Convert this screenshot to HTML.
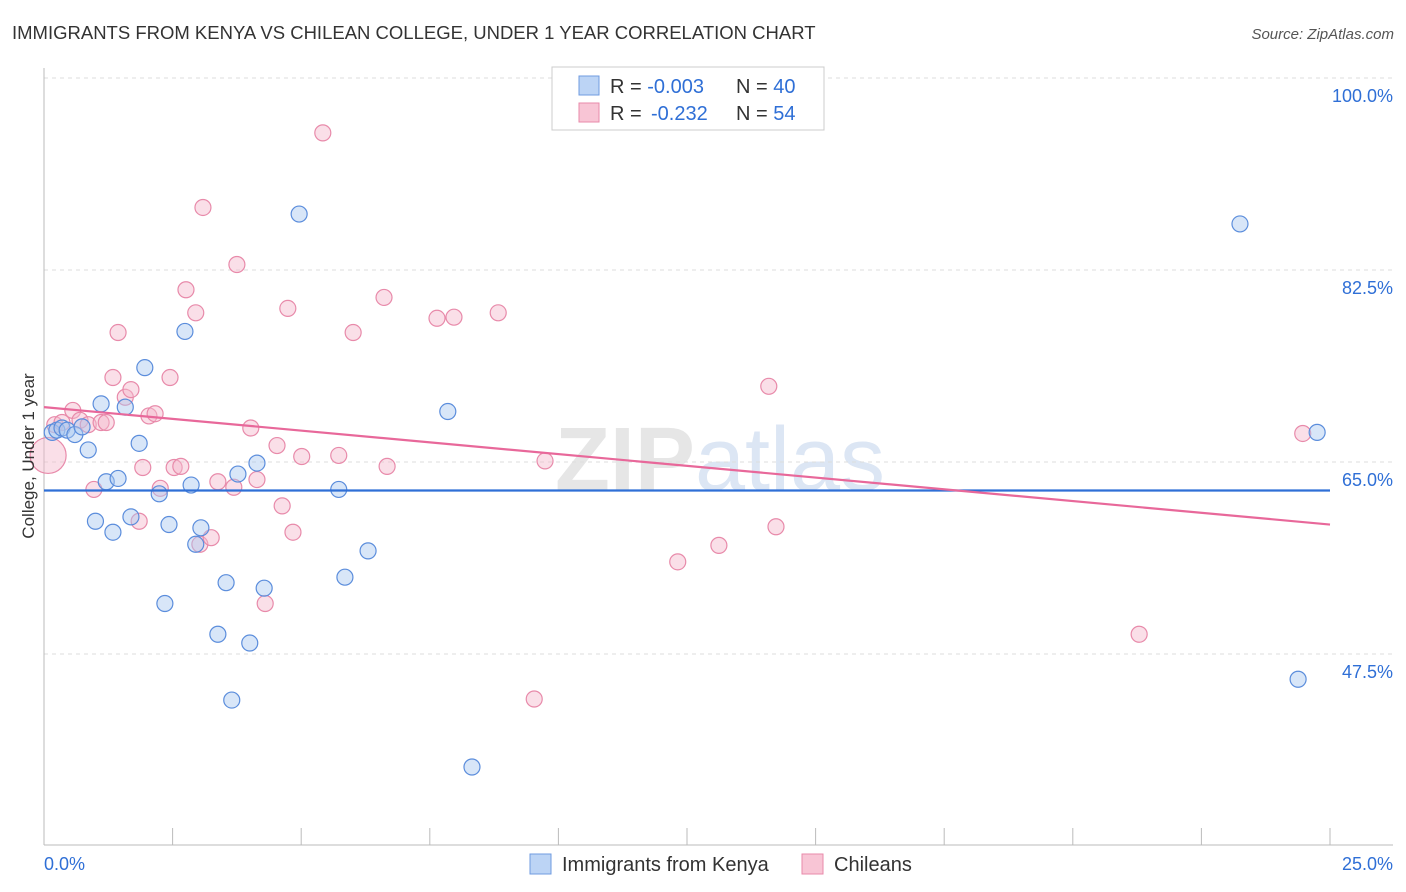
<!DOCTYPE html>
<html><head><meta charset="utf-8"><style>
body{margin:0;background:#fff;font-family:"Liberation Sans",sans-serif}
svg{display:block}
</style></head><body>
<svg id="chart" width="1406" height="892">
<text x="12" y="39" font-size="18.5" fill="#333">IMMIGRANTS FROM KENYA VS CHILEAN COLLEGE, UNDER 1 YEAR CORRELATION CHART</text>
<text x="1394" y="39" font-size="15" fill="#555" font-style="italic" text-anchor="end">Source: ZipAtlas.com</text>
<text x="720" y="490" font-size="90" fill="#e6e6e6" text-anchor="middle" font-weight="bold">ZIP<tspan fill="#dce6f4" font-weight="normal">atlas</tspan></text>
<g id="grid"></g><g id="axes"></g><g id="marks"></g>
<text transform="translate(34,456) rotate(-90)" font-size="17" fill="#333" text-anchor="middle">College, Under 1 year</text>
<g>
<rect x="552" y="67" width="272" height="63" fill="#fff" stroke="#ccc"/>
<rect x="579" y="76" width="20" height="19" fill="#bcd4f5" stroke="#6f9be0"/>
<rect x="579" y="103" width="20" height="19" fill="#f8c5d5" stroke="#e88aaa"/>
<text x="610" y="93" font-size="20" fill="#333">R = <tspan fill="#2f6fd6">-0.003</tspan><tspan x="736">N = </tspan><tspan fill="#2f6fd6">40</tspan></text>
<text x="610" y="120" font-size="20" fill="#333">R = <tspan x="651" fill="#2f6fd6">-0.232</tspan><tspan x="736">N = </tspan><tspan fill="#2f6fd6">54</tspan></text>
</g>
<g>
<rect x="530" y="854" width="21" height="20" fill="#bcd4f5" stroke="#6f9be0"/>
<text x="562" y="871" font-size="20" fill="#333">Immigrants from Kenya</text>
<rect x="802" y="854" width="21" height="20" fill="#f8c5d5" stroke="#e88aaa"/>
<text x="834" y="871" font-size="20" fill="#333">Chileans</text>
</g>
</svg>
<script>
const yTicks=[47.5,65.0,82.5,100.0];
const xTickLabels=["0.0%","25.0%"];
const kenyaX=[0.16,0.25,0.35,0.45,0.60,0.74,0.86,1.0,1.11,1.21,1.34,1.44,1.58,1.69,1.85,1.96,2.24,2.35,2.43,2.74,2.86,2.95,3.05,3.38,3.54,3.65,3.77,4.0,4.14,4.28,4.96,5.73,5.85,6.30,7.85,8.32,23.25,24.38,24.75];
const kenyaY=[67.7,67.9,68.1,67.9,67.5,68.2,66.1,59.6,70.3,63.2,58.6,63.5,70.0,60.0,66.7,73.6,62.1,52.1,59.3,76.9,62.9,57.5,59.0,49.3,54.0,43.3,63.9,48.5,64.9,53.5,87.6,62.5,54.5,56.9,69.6,37.2,86.7,45.2,67.7];
const chileX=[0.21,0.35,0.56,0.70,0.86,0.97,1.11,1.21,1.34,1.44,1.58,1.69,1.85,1.92,2.04,2.16,2.26,2.45,2.53,2.66,2.76,2.95,3.03,3.09,3.25,3.38,3.69,3.75,4.02,4.14,4.30,4.53,4.63,4.74,4.84,5.01,5.42,5.73,6.01,6.61,6.67,7.64,7.97,8.83,9.53,9.74,12.32,13.12,14.09,14.23,21.29,24.47];
const chileY=[68.4,68.6,69.7,68.8,68.4,62.5,68.6,68.6,72.7,76.8,70.9,71.6,59.6,64.5,69.2,69.4,62.6,72.7,64.5,64.6,80.7,78.6,57.5,88.2,58.1,63.2,62.7,83.0,68.1,63.4,52.1,66.5,61.0,79.0,58.6,65.5,95.0,65.6,76.8,80.0,64.6,78.1,78.2,78.6,43.4,65.1,55.9,57.4,71.9,59.1,49.3,67.6];
const bigChileX=[0.08], bigChileY=[65.6];
const kenyaTrend=[62.4,62.4];
const chileTrend=[70.0,59.3];
const NS="http://www.w3.org/2000/svg";
const X=v=>44+v/25*1286;
const Y=v=>462-(v-65)*192/17.5;
function mk(tag,attrs,parent){const e=document.createElementNS(NS,tag);for(const k in attrs)e.setAttribute(k,attrs[k]);document.getElementById(parent).appendChild(e);return e;}
yTicks.forEach(t=>{
 const l=mk('line',{x1:44,x2:1393,y1:Y(t),y2:Y(t),stroke:'#ddd','stroke-dasharray':'4,4'},'grid');
 
 
 const tx=mk('text',{x:1393,y:Y(t)+24,'font-size':18,fill:'#2f6fd6','text-anchor':'end'},'grid');
 tx.textContent=t.toFixed(1)+'%';
 
 
});
let a=mk('line',{x1:44,x2:44,y1:68,y2:845,stroke:'#bbb'},'axes');


a=mk('line',{x1:44,x2:1393,y1:845,y2:845,stroke:'#bbb'},'axes');


for(let i=0;i<=10;i++){const t=mk('line',{x1:X(i*2.5),x2:X(i*2.5),y1:828,y2:845,stroke:'#bbb'},'axes');
 
 }
[[0,'start',44],[25,'end',1393]].forEach((d,i)=>{const t=mk('text',{x:d[2],y:870,'font-size':18,fill:'#2f6fd6','text-anchor':d[1]},'axes');t.textContent=xTickLabels[i];
 
 });
function dots(xs,ys,fill,stroke,r,name){xs.forEach((x,i)=>{const c=mk('circle',{cx:X(x),cy:Y(ys[i]),r:r,fill:fill,'fill-opacity':0.45,stroke:stroke,'stroke-width':1.2},'marks');
 
 });}
dots(bigChileX,bigChileY,'#f5b8cb','#e88aaa',18,'chileans-point');
dots(chileX,chileY,'#f5b8cb','#e88aaa',8,'chileans-point');
dots(kenyaX,kenyaY,'#a9c8f0','#5b8ddc',8,'kenya-point');
let l=mk('line',{x1:X(0),x2:X(25),y1:Y(kenyaTrend[0]),y2:Y(kenyaTrend[1]),stroke:'#2f6fd6','stroke-width':2.2},'marks');


l=mk('line',{x1:X(0),x2:X(25),y1:Y(chileTrend[0]),y2:Y(chileTrend[1]),stroke:'#e8689a','stroke-width':2.2},'marks');


</script>
</body></html>
